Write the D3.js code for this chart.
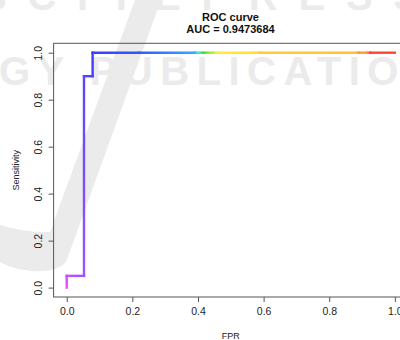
<!DOCTYPE html>
<html>
<head>
<meta charset="utf-8">
<script src="https://cdn.jsdelivr.net/npm/d3@7"></script>
<style>
  body { margin: 0; background: #fff; }
  svg { display: block; font-family: "Liberation Sans", Arial, sans-serif; }
</style>
</head>
<body>
<svg id="roc"></svg>
<script>
// ROC curve points (FPR, sensitivity) and the score threshold at each point
var fpr   = [0, 0, 0.0526, 0.0526, 0.0789, 0.0789, 0.22, 0.39, 0.40, 0.416, 0.446, 0.46, 0.575, 0.59, 0.88, 0.89, 0.915, 0.925, 1.0]
var tpr   = [0, 0.05, 0.05, 0.9, 0.9, 1, 1, 1, 1, 1, 1, 1, 1, 1, 1, 1, 1, 1, 1]
var score = [1.0, 0.97, 0.95, 0.9, 0.88, 0.85, 0.75, 0.6, 0.55, 0.5, 0.45, 0.4, 0.35, 0.3, 0.2, 0.15, 0.1, 0.05, 0.0]

var xTicks = [0, 0.2, 0.4, 0.6, 0.8, 1.0]
var yTicks = [0, 0.2, 0.4, 0.6, 0.8, 1.0]
var titleLines = ['ROC curve', 'AUC = 0.9473684']

var outerWidth = 400, outerHeight = 340
// plot region like R: 4% padding beyond data range
var margins = {top: 43.3, right: -8, bottom: 43, left: 53.6}
var innerWidth = outerWidth - margins.left - margins.right
var innerHeight = outerHeight - margins.top - margins.bottom

var svg = d3.select('svg#roc')
    .attr('width', outerWidth)
    .attr('height', outerHeight)

// faint background watermark
var wm = svg.append('g').attr('fill', '#ebebeb')
wm.append('path')
    .attr('d', 'M135,0 L161,0 L66,262 Q56,273 32,271 Q12,269 0,262 L0,225 Q26,233 50,232 Z')
wm.append('text')
    .attr('x', -20).attr('y', 10)
    .attr('font-size', 40).attr('font-weight', 'bold')
    .attr('textLength', 440).attr('lengthAdjust', 'spacing')
    .text('SCITEPRESS')
wm.append('text')
    .attr('x', -1).attr('y', 85)
    .attr('font-size', 40).attr('font-weight', 'bold')
    .attr('textLength', 470).attr('lengthAdjust', 'spacing')
    .text('GY PUBLICATIONS')

var plot = svg.append('g')
    .attr('transform', 'translate(' + margins.left + ',' + margins.top + ')')

var xScale = d3.scaleLinear()
    .domain([-0.04, 1.04])
    .range([0, innerWidth])
var yScale = d3.scaleLinear()
    .domain([-0.04, 1.04])
    .range([innerHeight, 0])

// colour by threshold (rainbow, high score = magenta, low = red)
var colour = d3.scaleLinear()
    .domain([1.0, 0.97, 0.95, 0.9, 0.88, 0.85, 0.75, 0.6, 0.55, 0.5, 0.45, 0.4, 0.35, 0.3, 0.2, 0.15, 0.1, 0.05, 0])
    .range(['#ff44ff', '#cc4cff', '#9955ff', '#5a46ff', '#4a40ff', '#3d3dff', '#3358ff', '#33aaff',
            '#33eedd', '#44dd33', '#bbee33', '#ffee33', '#ffe033', '#ffcc33', '#ffc233', '#ff9933',
            '#ff9933', '#ff4433', '#ff4433'])

// box (bty = "o")
plot.append('rect')
    .attr('x', 0).attr('y', 0)
    .attr('width', innerWidth).attr('height', innerHeight)
    .attr('fill', 'none')
    .attr('stroke', '#555')
    .attr('stroke-width', 1)

var xAxis = d3.axisBottom(xScale)
    .tickValues(xTicks)
    .tickFormat(d3.format('.1f'))
    .tickSize(5)
    .tickPadding(6)
var yAxis = d3.axisLeft(yScale)
    .tickValues(yTicks)
    .tickFormat(d3.format('.1f'))
    .tickSize(5)
    .tickPadding(6)

var gx = plot.append('g')
    .attr('class', 'x axis')
    .attr('transform', 'translate(0,' + innerHeight + ')')
    .call(xAxis)
gx.select('.domain').remove()
gx.selectAll('line').attr('stroke', '#555')
gx.selectAll('text').attr('font-size', 10.5).attr('fill', '#222')
    .attr('font-family', '"Liberation Sans", Arial, sans-serif')

var gy = plot.append('g')
    .attr('class', 'y axis')
    .call(yAxis)
gy.select('.domain').remove()
gy.selectAll('line').attr('stroke', '#555')
gy.selectAll('text')
    .attr('font-size', 10.5).attr('fill', '#222')
    .attr('font-family', '"Liberation Sans", Arial, sans-serif')
    .attr('text-anchor', 'middle')
    .attr('dy', null)
    .attr('x', null)
    .attr('transform', function(d) { return 'translate(-12,0) rotate(-90)' })

// the curve, one gradient segment per step
var defs = svg.append('defs')
var segs = d3.range(fpr.length - 1)
segs.forEach(function(i) {
    var g = defs.append('linearGradient')
        .attr('id', 'seg' + i)
        .attr('gradientUnits', 'userSpaceOnUse')
        .attr('x1', xScale(fpr[i])).attr('y1', yScale(tpr[i]))
        .attr('x2', xScale(fpr[i + 1]) + (fpr[i] === fpr[i + 1] ? 0.01 : 0))
        .attr('y2', yScale(tpr[i + 1]) + (tpr[i] === tpr[i + 1] ? 0.01 : 0))
    g.append('stop').attr('offset', 0).attr('stop-color', colour(score[i]))
    g.append('stop').attr('offset', 1).attr('stop-color', colour(score[i + 1]))
})

plot.append('g')
    .attr('class', 'curve')
    .selectAll('line')
    .data(segs)
    .join('line')
    .attr('x1', function(i) { return xScale(fpr[i]) })
    .attr('y1', function(i) { return yScale(tpr[i]) })
    .attr('x2', function(i) { return xScale(fpr[i + 1]) })
    .attr('y2', function(i) { return yScale(tpr[i + 1]) })
    .attr('stroke', function(i) { return 'url(#seg' + i + ')' })
    .attr('stroke-width', 2.4)
    .attr('stroke-linecap', 'square')

// titles
svg.selectAll('text.title')
    .data(titleLines)
    .join('text')
    .attr('class', 'title')
    .attr('x', 230.5)
    .attr('y', function(d, i) { return 20.5 + i * 12.5 })
    .attr('text-anchor', 'middle')
    .attr('font-size', 11)
    .attr('font-weight', 'bold')
    .attr('fill', '#111')
    .text(function(d) { return d })

svg.append('text')
    .attr('x', margins.left + xScale(0.5))
    .attr('y', 339)
    .attr('text-anchor', 'middle')
    .attr('font-size', 9)
    .attr('fill', '#222')
    .text('FPR')

svg.append('text')
    .attr('transform', 'translate(19,' + (margins.top + yScale(0.5)) + ') rotate(-90)')
    .attr('text-anchor', 'middle')
    .attr('font-size', 9)
    .attr('fill', '#222')
    .text('Sensitivity')
</script>
</body>
</html>
